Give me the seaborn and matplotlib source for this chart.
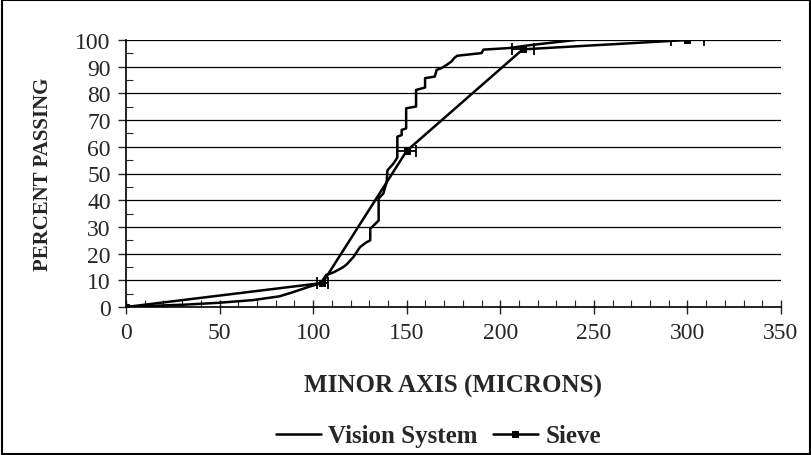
import matplotlib
matplotlib.use("Agg")
import matplotlib.pyplot as plt
import seaborn as sns
import pandas as pd
from matplotlib.ticker import MultipleLocator
from matplotlib.patches import Rectangle

# ---- data ----
vision_x = [0, 10, 20, 32, 50, 68, 82, 89, 97, 104, 107, 111, 116, 118, 121.5,
            125, 128, 130.5, 130.5, 133, 135, 135, 137.5, 139.3, 139.7, 143,
            145, 145, 147.3, 147.3, 149.7, 149.7, 155, 155, 159.8, 159.8, 165,
            166, 168.7, 171.4, 174, 175.3, 177, 190, 191, 205, 215, 240]
vision_y = [0, 0.3, 0.6, 0.9, 1.6, 2.6, 4.0, 5.5, 7.4, 8.9, 12, 13, 14.9, 16,
            18.7, 22.4, 24, 25, 29.3, 31, 32.4, 40.6, 42.5, 46.9, 51.2, 53.8,
            56, 63.8, 64.4, 66.3, 66.9, 74.4, 75.1, 81.3, 82.2, 85.7, 86.3,
            88.8, 89.5, 90.7, 92, 93.2, 94.1, 95.1, 96.4, 97, 98, 100]
sieve_x = [0, 105, 150, 212, 300]
sieve_y = [0, 9, 58.5, 96.5, 100]
sieve_xerr = [0, 3, 5, 6, 9]

x_ticks = [0, 50, 100, 150, 200, 250, 300, 350]
y_ticks = [0, 10, 20, 30, 40, 50, 60, 70, 80, 90, 100]

sns.set_style("white")
plt.rcParams['font.family'] = ['Liberation Serif', 'DejaVu Serif']

fig = plt.figure(figsize=(8.12, 4.56), dpi=100)
ax = fig.add_axes([126/812, 1-308/456, (781-126)/812, (308-41)/456])

vdf = pd.DataFrame({"x": vision_x, "y": vision_y})
sdf = pd.DataFrame({"x": sieve_x, "y": sieve_y})

sns.lineplot(data=vdf, x="x", y="y", estimator=None, sort=False, ax=ax,
             color="black", linewidth=1.8, label="Vision System")
sns.lineplot(data=sdf, x="x", y="y", estimator=None, sort=False, ax=ax,
             color="black", linewidth=1.8, marker="s", markersize=5,
             markeredgecolor="black", label="Sieve")
ax.errorbar(sieve_x, sieve_y, xerr=sieve_xerr, fmt="none", ecolor="black",
            elinewidth=1.3, capsize=4.5, capthick=1.3)

ax.set_xlim(0, 350)
ax.set_ylim(0, 100)
ax.set_xticks(x_ticks)
ax.set_yticks(y_ticks)
ax.xaxis.set_minor_locator(MultipleLocator(10))
ax.yaxis.set_minor_locator(MultipleLocator(5))
ax.grid(axis="y", which="major", color="black", linewidth=0.9)
ax.set_axisbelow(True)

for s in ["top", "right"]:
    ax.spines[s].set_visible(False)
for s in ["left", "bottom"]:
    ax.spines[s].set_color("black")
    ax.spines[s].set_linewidth(1.2)

ax.tick_params(axis="x", which="major", direction="inout", length=10, width=1,
               labelsize=17, pad=6, bottom=True)
ax.tick_params(axis="x", which="minor", direction="in", length=5, width=0.8, bottom=True)
ax.tick_params(axis="y", which="major", direction="out", length=6, width=1,
               labelsize=17, pad=5, left=True)
ax.tick_params(axis="y", which="minor", direction="in", length=5, width=0.8, left=True)

ax.set_xlabel("MINOR AXIS (MICRONS)", fontsize=18, fontweight="bold", labelpad=22)
ax.set_ylabel("PERCENT PASSING", fontsize=15, fontweight="bold", labelpad=16)

ax.get_legend().remove()
h, l = ax.get_legend_handles_labels()
fig.legend(h, l, loc="center", bbox_to_anchor=(0.54, 0.042), ncol=2,
           frameon=False, prop={"size": 18, "weight": "bold"},
           handlelength=1.8, columnspacing=0.6, handletextpad=0.3)

fig.patches.append(Rectangle((0.002, 0.003), 0.995, 0.994, transform=fig.transFigure,
                             fill=False, edgecolor="black", linewidth=1.5))

fig.savefig("out.png", dpi=100)
